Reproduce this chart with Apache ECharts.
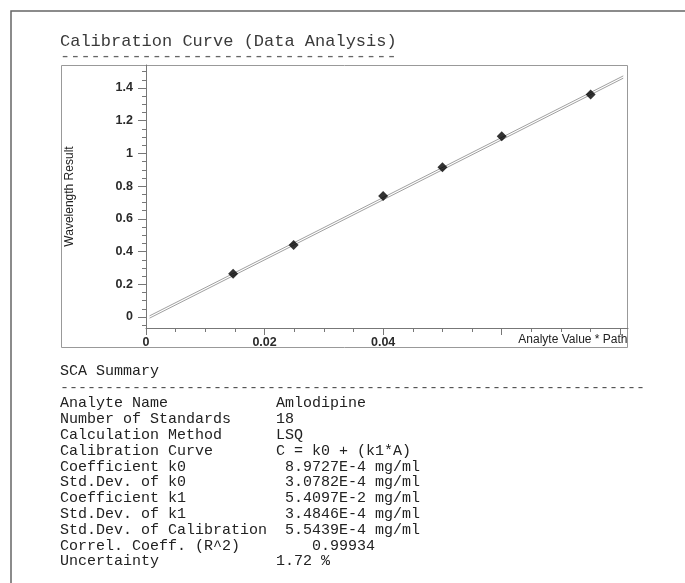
<!DOCTYPE html>
<html>
<head>
<meta charset="utf-8">
<script src="https://cdn.jsdelivr.net/npm/echarts@6/dist/echarts.min.js"></script>
<style>
html,body{margin:0;padding:0;background:#fff;}
#chart{width:685px;height:583px;}
</style>
</head>
<body>
<div id="chart"></div>
<script>
// ---- data ----
var analyteX = [0.0147, 0.0249, 0.0400, 0.0500, 0.0600, 0.0750];
var resultY  = [0.265, 0.440, 0.740, 0.915, 1.105, 1.360];
// fitted calibration line (two band edges), endpoints
var bandX  = [0.0006, 0.0805];
var upperY = [0.007, 1.474];
var lowerY = [-0.007, 1.460];
// axis ticks
var xMajorTicks = [0, 0.02, 0.04, 0.06, 0.08];
var xMinorTicks = [0.005, 0.01, 0.015, 0.025, 0.03, 0.035, 0.045, 0.05, 0.055, 0.065, 0.07, 0.075];
var xLabelVals = [0, 0.02, 0.04];
var yMajorTicks = [0, 0.2, 0.4, 0.6, 0.8, 1, 1.2, 1.4];
var yMinorTicks = [-0.05, 0.05, 0.1, 0.15, 0.25, 0.3, 0.35, 0.45, 0.5, 0.55, 0.65, 0.7, 0.75, 0.85, 0.9, 0.95, 1.05, 1.1, 1.15, 1.25, 1.3, 1.35, 1.45, 1.5];
// texts
var chartTitle = "Calibration Curve (Data Analysis)";
var summaryTitle = "SCA Summary";
var summaryLabels = ["Analyte Name","Number of Standards","Calculation Method","Calibration Curve","Coefficient k0","Std.Dev. of k0","Coefficient k1","Std.Dev. of k1","Std.Dev. of Calibration","Correl. Coeff. (R^2)","Uncertainty"];
var summaryValues = ["Amlodipine","18","LSQ","C = k0 + (k1*A)"," 8.9727E-4 mg/ml"," 3.0782E-4 mg/ml"," 5.4097E-2 mg/ml"," 3.4846E-4 mg/ml"," 5.5439E-4 mg/ml","    0.99934","1.72 %"];

function pad(s, n){ while (s.length < n) s += " "; return s; }
function dashes(n){ var s=""; for (var i=0;i<n;i++) s+="-"; return s; }

var mono15 = '15px "Liberation Mono", "Courier New", monospace';
var mono17 = '17px "Liberation Mono", "Courier New", monospace';
var textColor = '#222';

var graphics = [
  { type:'polyline', silent:true, shape:{points:[[11,583],[11,11],[685,11]]}, style:{stroke:'#666', lineWidth:1.5, fill:null} },
  { type:'rect', silent:true, shape:{x:61.5, y:65.5, width:566, height:282}, style:{stroke:'#999', lineWidth:1, fill:null} },
  { type:'text', style:{ text: chartTitle, x:60, y:41, font: mono17, fill:'#3a3a3a', textAlign:'left', textVerticalAlign:'middle', align:'left', verticalAlign:'middle'} },
  { type:'text', style:{ text: dashes(33), x:60, y:56, font: mono17, fill:'#666', textAlign:'left', textVerticalAlign:'middle', align:'left', verticalAlign:'middle'} },
  { type:'text', style:{ text: summaryTitle, x:60, y:371.5, font: mono15, fill:textColor, textAlign:'left', textVerticalAlign:'middle', align:'left', verticalAlign:'middle'} },
  { type:'text', style:{ text: dashes(65), x:60, y:388, font: mono15, fill:'#555', textAlign:'left', textVerticalAlign:'middle', align:'left', verticalAlign:'middle'} }
];
for (var i=0;i<summaryLabels.length;i++){
  graphics.push({ type:'text', style:{ text: pad(summaryLabels[i], 24) + summaryValues[i], x:60, y:403.5 + i*15.8, font: mono15, fill:textColor, textAlign:'left', textVerticalAlign:'middle', align:'left', verticalAlign:'middle'} });
}

var chart = echarts.init(document.getElementById('chart'), null, {renderer:'canvas'});
var axisLineColor = '#777';
var labelFont = {fontFamily:'"Liberation Sans", Arial, sans-serif', fontSize:12.5, fontWeight:'bold', color:'#2a2a2a'};
var xMin = 0, xMax = 0.0813, yMin = -0.0672, yMax = 1.5406;

chart.setOption({
  animation:false,
  backgroundColor:'#fff',
  grid:{ left:146, top:65, width:482, height:263, show:false },
  xAxis:[{
    type:'value', min:xMin, max:xMax, position:'bottom',
    name:'Analyte Value * Path', nameLocation:'end', nameGap:-0.5,
    nameTextStyle:{ fontFamily:'"Liberation Sans", Arial, sans-serif', fontSize:12, color:'#222', align:'right', verticalAlign:'top', padding:[6,0,0,0] },
    axisLine:{ show:true, onZero:false, lineStyle:{color:axisLineColor, width:1} },
    axisTick:{ show:true, inside:false, length:7, customValues:xMajorTicks, lineStyle:{color:axisLineColor} },
    splitLine:{show:false},
    axisLabel:Object.assign({ margin:8, customValues:xLabelVals, formatter:function(v){ return String(v); } }, labelFont)
  },{
    type:'value', min:xMin, max:xMax, position:'bottom', offset:0,
    axisLine:{show:false, onZero:false},
    axisTick:{ show:true, inside:false, length:4, customValues:xMinorTicks, lineStyle:{color:axisLineColor} },
    axisLabel:{show:false}, splitLine:{show:false}
  }],
  yAxis:[{
    type:'value', min:yMin, max:yMax, position:'left',
    name:'Wavelength Result', nameLocation:'middle', nameGap:70,
    nameTextStyle:{ fontFamily:'"Liberation Sans", Arial, sans-serif', fontSize:12, color:'#222' },
    axisLine:{ show:true, onZero:false, lineStyle:{color:axisLineColor, width:1} },
    axisTick:{ show:true, inside:false, length:8, customValues:yMajorTicks, lineStyle:{color:axisLineColor} },
    splitLine:{show:false},
    axisLabel:Object.assign({ margin:13, customValues:yMajorTicks, formatter:function(v){ return String(v); } }, labelFont)
  },{
    type:'value', min:yMin, max:yMax, position:'left', offset:0,
    axisLine:{show:false, onZero:false},
    axisTick:{ show:true, inside:false, length:4, customValues:yMinorTicks, lineStyle:{color:axisLineColor} },
    axisLabel:{show:false}, splitLine:{show:false}
  }],
  series:[
    { type:'line', data:[[bandX[0], upperY[0]],[bandX[1], upperY[1]]], symbol:'none', lineStyle:{color:'#a0a0a0', width:1}, z:2 },
    { type:'line', data:[[bandX[0], lowerY[0]],[bandX[1], lowerY[1]]], symbol:'none', lineStyle:{color:'#a0a0a0', width:1}, z:2 },
    { type:'scatter', data: analyteX.map(function(x,i){ return [x, resultY[i]]; }), symbol:'diamond', symbolSize:10, itemStyle:{color:'#000'}, z:3 }
  ],
  graphic: graphics
});
</script>
</body>
</html>
